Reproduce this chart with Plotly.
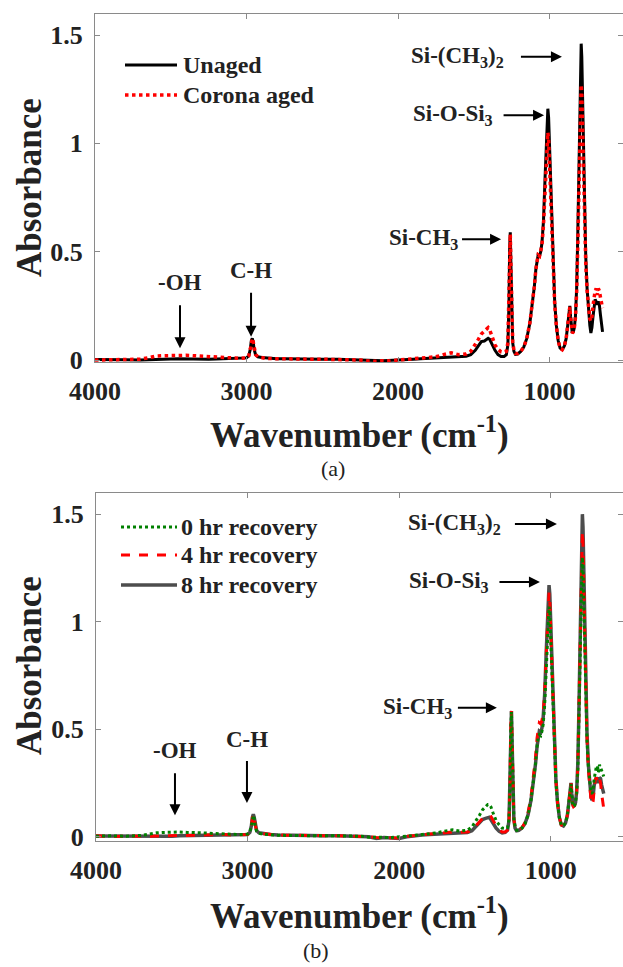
import plotly.graph_objects as go

W_PX, H_PX = 623, 967

# ---------------- data ----------------
wavenumber = [
    4000, 3900, 3800, 3700, 3650, 3600, 3550, 3500, 3450, 3400,
    3350, 3300, 3250, 3200, 3150, 3100, 3050, 3000, 2985, 2975,
    2968, 2962, 2956, 2950, 2940, 2925, 2900, 2875, 2850, 2800,
    2750, 2700, 2600, 2500, 2400, 2300, 2250, 2200, 2150, 2100,
    2050, 2000, 1950, 1900, 1850, 1800, 1750, 1700, 1650, 1600,
    1550, 1520, 1490, 1470, 1450, 1430, 1415, 1405, 1395, 1380,
    1360, 1340, 1320, 1300, 1285, 1275, 1268, 1263, 1259, 1255,
    1250, 1243, 1235, 1225, 1210, 1190, 1170, 1150, 1130, 1115,
    1100, 1090, 1082, 1075, 1066, 1058, 1050, 1040, 1030, 1022,
    1016, 1011, 1006, 1000, 993, 985, 976, 966, 955, 943,
    930, 916, 902, 890, 880, 872, 866, 861, 856, 850,
    843, 836, 829, 821, 814, 807, 800, 795, 791, 787,
    782, 776, 769, 761, 752, 743, 734, 727, 720, 713,
    706, 699, 692, 685, 678, 671, 664, 657, 650,
]

unaged = [
    0.002, 0.000, 0.001, 0.000, 0.002, 0.004, 0.005, 0.005, 0.006, 0.005,
    0.005, 0.005, 0.004, 0.005, 0.006, 0.006, 0.007, 0.010, 0.020, 0.050,
    0.090, 0.100, 0.085, 0.050, 0.025, 0.015, 0.012, 0.010, 0.008, 0.006,
    0.006, 0.005, 0.005, 0.004, 0.004, 0.003, 0.002, 0.000, -0.002, -0.003,
    -0.002, -0.001, 0.002, 0.004, 0.006, 0.008, 0.010, 0.012, 0.015, 0.016,
    0.018, 0.025, 0.045, 0.065, 0.085, 0.088, 0.098, 0.100, 0.096, 0.075,
    0.045, 0.025, 0.016, 0.016, 0.025, 0.070, 0.250, 0.520, 0.590, 0.450,
    0.200, 0.080, 0.040, 0.026, 0.028, 0.040, 0.060, 0.100, 0.170, 0.250,
    0.340, 0.420, 0.470, 0.485, 0.480, 0.500, 0.540, 0.640, 0.830, 1.000,
    1.110, 1.160, 1.120, 0.980, 0.800, 0.600, 0.420, 0.270, 0.160, 0.090,
    0.055, 0.048, 0.065, 0.100, 0.160, 0.220, 0.250, 0.200, 0.140, 0.125,
    0.130, 0.150, 0.200, 0.330, 0.560, 0.850, 1.150, 1.360, 1.460, 1.400,
    1.200, 0.950, 0.700, 0.480, 0.330, 0.230, 0.160, 0.125, 0.150, 0.200,
    0.260, 0.280, 0.270, 0.255, 0.270, 0.255, 0.210, 0.170, 0.130,
]

corona_aged = [
    0.000, 0.002, 0.000, 0.004, 0.010, 0.018, 0.020, 0.022, 0.021, 0.022,
    0.020, 0.019, 0.018, 0.015, 0.012, 0.010, 0.008, 0.010, 0.020, 0.050,
    0.090, 0.100, 0.085, 0.050, 0.025, 0.015, 0.010, 0.008, 0.007, 0.006,
    0.005, 0.005, 0.004, 0.004, 0.003, 0.003, 0.000, -0.004, -0.006, -0.003,
    -0.004, 0.000, 0.003, 0.005, 0.008, 0.012, 0.015, 0.025, 0.033, 0.025,
    0.028, 0.040, 0.070, 0.095, 0.120, 0.135, 0.148, 0.150, 0.140, 0.105,
    0.070, 0.050, 0.038, 0.035, 0.040, 0.080, 0.250, 0.510, 0.580, 0.440,
    0.200, 0.085, 0.045, 0.030, 0.030, 0.040, 0.060, 0.100, 0.170, 0.250,
    0.340, 0.420, 0.470, 0.485, 0.480, 0.500, 0.530, 0.620, 0.780, 0.930,
    1.020, 1.050, 1.020, 0.900, 0.750, 0.570, 0.400, 0.260, 0.160, 0.090,
    0.055, 0.048, 0.065, 0.100, 0.160, 0.215, 0.245, 0.200, 0.140, 0.125,
    0.130, 0.150, 0.195, 0.310, 0.510, 0.760, 1.020, 1.200, 1.270, 1.230,
    1.060, 0.850, 0.640, 0.450, 0.320, 0.240, 0.190, 0.180, 0.200, 0.250,
    0.300, 0.320, 0.330, 0.300, 0.330, 0.320, 0.290, 0.260, 0.240,
]

recovery_8hr = [
    0.003, 0.002, 0.004, 0.002, 0.003, 0.001, 0.000, 0.002, 0.004, 0.005,
    0.005, 0.006, 0.006, 0.007, 0.008, 0.008, 0.008, 0.010, 0.020, 0.050,
    0.090, 0.105, 0.090, 0.055, 0.028, 0.018, 0.014, 0.012, 0.010, 0.008,
    0.007, 0.006, 0.005, 0.005, 0.004, 0.003, 0.002, 0.000, -0.008, -0.004,
    -0.006, -0.008, 0.000, 0.005, 0.008, 0.010, 0.012, 0.014, 0.016, 0.018,
    0.020, 0.028, 0.050, 0.068, 0.080, 0.085, 0.090, 0.090, 0.080, 0.062,
    0.040, 0.025, 0.018, 0.020, 0.030, 0.075, 0.250, 0.520, 0.585, 0.450,
    0.200, 0.080, 0.040, 0.028, 0.030, 0.040, 0.060, 0.100, 0.170, 0.250,
    0.340, 0.420, 0.470, 0.490, 0.485, 0.505, 0.550, 0.660, 0.850, 1.020,
    1.130, 1.170, 1.130, 0.990, 0.810, 0.610, 0.420, 0.270, 0.160, 0.090,
    0.055, 0.050, 0.065, 0.100, 0.160, 0.220, 0.250, 0.200, 0.150, 0.140,
    0.145, 0.160, 0.210, 0.340, 0.580, 0.880, 1.190, 1.400, 1.500, 1.440,
    1.240, 0.980, 0.720, 0.490, 0.340, 0.240, 0.185, 0.170, 0.190, 0.240,
    0.270, 0.275, 0.265, 0.250, 0.275, 0.270, 0.240, 0.215, 0.200,
]

recovery_4hr = [
    0.004, 0.000, 0.003, 0.001, 0.002, 0.003, 0.004, 0.006, 0.005, 0.008,
    0.006, 0.010, 0.008, 0.009, 0.010, 0.008, 0.009, 0.010, 0.020, 0.050,
    0.090, 0.105, 0.090, 0.055, 0.028, 0.018, 0.014, 0.012, 0.010, 0.008,
    0.007, 0.006, 0.005, 0.005, 0.004, 0.003, 0.002, 0.000, -0.004, -0.004,
    -0.006, -0.006, 0.002, 0.006, 0.009, 0.012, 0.014, 0.018, 0.022, 0.020,
    0.022, 0.030, 0.055, 0.072, 0.085, 0.090, 0.098, 0.100, 0.095, 0.075,
    0.050, 0.032, 0.022, 0.022, 0.030, 0.075, 0.250, 0.520, 0.585, 0.450,
    0.200, 0.080, 0.040, 0.028, 0.030, 0.042, 0.065, 0.110, 0.185, 0.270,
    0.370, 0.460, 0.510, 0.530, 0.525, 0.540, 0.570, 0.670, 0.840, 1.000,
    1.100, 1.135, 1.100, 0.970, 0.800, 0.600, 0.415, 0.265, 0.160, 0.090,
    0.055, 0.050, 0.065, 0.100, 0.160, 0.220, 0.250, 0.200, 0.150, 0.140,
    0.145, 0.160, 0.205, 0.330, 0.560, 0.850, 1.140, 1.340, 1.420, 1.370,
    1.180, 0.930, 0.690, 0.470, 0.320, 0.220, 0.170, 0.150, 0.165, 0.220,
    0.265, 0.275, 0.260, 0.250, 0.270, 0.250, 0.200, 0.150, 0.130,
]

recovery_0hr = [
    0.002, 0.004, 0.002, 0.006, 0.012, 0.018, 0.020, 0.022, 0.022, 0.020,
    0.020, 0.018, 0.016, 0.014, 0.012, 0.010, 0.010, 0.012, 0.020, 0.050,
    0.090, 0.100, 0.085, 0.050, 0.025, 0.016, 0.012, 0.010, 0.008, 0.007,
    0.006, 0.005, 0.005, 0.004, 0.004, 0.003, 0.002, -0.002, -0.004, -0.003,
    -0.004, -0.002, 0.003, 0.006, 0.010, 0.014, 0.018, 0.026, 0.032, 0.026,
    0.030, 0.045, 0.075, 0.100, 0.125, 0.140, 0.150, 0.150, 0.140, 0.110,
    0.075, 0.055, 0.040, 0.038, 0.042, 0.080, 0.250, 0.510, 0.580, 0.440,
    0.200, 0.085, 0.045, 0.030, 0.030, 0.040, 0.060, 0.100, 0.170, 0.250,
    0.340, 0.420, 0.465, 0.475, 0.470, 0.490, 0.520, 0.610, 0.770, 0.930,
    1.030, 1.070, 1.040, 0.910, 0.760, 0.580, 0.400, 0.260, 0.160, 0.090,
    0.055, 0.050, 0.065, 0.100, 0.160, 0.215, 0.245, 0.200, 0.150, 0.140,
    0.145, 0.160, 0.200, 0.310, 0.510, 0.760, 1.030, 1.220, 1.300, 1.250,
    1.080, 0.870, 0.650, 0.460, 0.330, 0.250, 0.205, 0.200, 0.220, 0.270,
    0.310, 0.325, 0.330, 0.300, 0.335, 0.320, 0.300, 0.290, 0.280,
]

x_ticks = [4000, 3000, 2000, 1000]
y_ticks = [0, 0.5, 1, 1.5]
y_tick_labels = ["0", "0.5", "1", "1.5"]

legend_a = ["Unaged", "Corona aged"]
legend_b = ["0 hr recovery", "4 hr recovery", "8 hr recovery"]

# ---------------- styling ----------------
SERIF = "Liberation Serif"
AXIS_GRAY = "#8a8a8a"
TXT = "#222222"
BLACK = "#000000"
RED = "#ff0000"
GREEN = "#008000"
DGRAY = "#4d4d4d"


def px_x(p):
    return p / W_PX


def px_y(p):
    return 1 - p / H_PX


fig = go.Figure()

# top panel (a)
fig.add_trace(go.Scatter(x=wavenumber, y=unaged, mode="lines", name=legend_a[0],
                         line=dict(color=BLACK, width=3), xaxis="x", yaxis="y"))
fig.add_trace(go.Scatter(x=wavenumber, y=corona_aged, mode="lines", name=legend_a[1],
                         line=dict(color=RED, width=3.5, dash="dot"), xaxis="x", yaxis="y"))
# bottom panel (b)
fig.add_trace(go.Scatter(x=wavenumber, y=recovery_8hr, mode="lines", name=legend_b[2],
                         line=dict(color=DGRAY, width=3.5), xaxis="x2", yaxis="y2"))
fig.add_trace(go.Scatter(x=wavenumber, y=recovery_4hr, mode="lines", name=legend_b[1],
                         line=dict(color=RED, width=3, dash="dash"), xaxis="x2", yaxis="y2"))
fig.add_trace(go.Scatter(x=wavenumber, y=recovery_0hr, mode="lines", name=legend_b[0],
                         line=dict(color=GREEN, width=3, dash="dot"), xaxis="x2", yaxis="y2"))

axis_common = dict(
    showline=True, linecolor=AXIS_GRAY, linewidth=1, mirror="ticks",
    ticks="inside", ticklen=5, tickcolor=AXIS_GRAY, tickwidth=1,
    showgrid=False, zeroline=False, automargin=False,
    tickfont=dict(family=SERIF, size=26, color=TXT, weight="bold"),
    ticklabelstandoff=6,
)

fig.update_layout(
    width=W_PX, height=H_PX,
    margin=dict(l=0, r=0, t=0, b=0),
    paper_bgcolor="white", plot_bgcolor="white",
    showlegend=False,
    xaxis=dict(domain=[px_x(95), 1], range=[4000, 515], tickvals=x_ticks,
               anchor="y", **axis_common),
    yaxis=dict(domain=[px_y(362), px_y(14)], range=[-0.009, 1.597], tickvals=y_ticks,
               ticktext=y_tick_labels, anchor="x", **axis_common),
    xaxis2=dict(domain=[px_x(96), 1], range=[4000, 523], tickvals=x_ticks,
                anchor="y2", **axis_common),
    yaxis2=dict(domain=[px_y(840.7), px_y(492.7)], range=[-0.0186, 1.6], tickvals=y_ticks,
                ticktext=y_tick_labels, anchor="x2", **axis_common),
)

ann = []
shapes = []

# axis titles & captions
for (ytitle_c, xtitle_c, cap_y, cap_x, cap) in [
    (188, 433, 468, 333, "(a)"),
    (666, 913, 950, 316, "(b)"),
]:
    ann.append(dict(text="Absorbance", xref="paper", yref="paper", x=px_x(29), y=px_y(ytitle_c),
                    xanchor="center", yanchor="middle", textangle=-90, showarrow=False,
                    font=dict(family=SERIF, size=35, color=TXT, weight="bold")))
    ann.append(dict(text="Wavenumber (cm<sup>-1</sup>)", xref="paper", yref="paper",
                    x=px_x(359), y=px_y(xtitle_c), xanchor="center", yanchor="middle",
                    showarrow=False, font=dict(family=SERIF, size=35, color=TXT, weight="bold")))
    ann.append(dict(text=cap, xref="paper", yref="paper", x=px_x(cap_x), y=px_y(cap_y),
                    xanchor="center", yanchor="middle", showarrow=False,
                    font=dict(family=SERIF, size=22, color=TXT)))

lab_font = dict(family=SERIF, size=23, color=TXT, weight="bold")


def add_labels(xr, yr, items):
    # each label carries its own arrow: tip at (w, a), text offset (ax, ay) in px
    for text, w, a, ax, ay, stand in items:
        ann.append(dict(text=text, xref=xr, yref=yr, x=w, y=a, ax=ax, ay=ay,
                        showarrow=True, arrowhead=2, arrowsize=1.1, arrowwidth=2,
                        arrowcolor=BLACK, startstandoff=stand, borderpad=0,
                        font=lab_font))


add_labels("x", "y", [
    ("-OH", 3439, 0.055, 0, -66, 10),
    ("C-H", 2970, 0.108, 0, -66, 9),
    ("Si-CH<sub>3</sub>", 1320, 0.558, -78, 0, 4),
    ("Si-O-Si<sub>3</sub>", 1036, 1.13, -91, 0, 10),
    ("Si-(CH<sub>3</sub>)<sub>2</sub>", 918, 1.40, -104, 0, 16),
])
add_labels("x2", "y2", [
    ("-OH", 3479, 0.10, 0, -65, 10),
    ("C-H", 3004, 0.157, 0, -63, 8),
    ("Si-CH<sub>3</sub>", 1355, 0.60, -79, 0, 5),
    ("Si-O-Si<sub>3</sub>", 1071, 1.185, -91, 0, 10),
    ("Si-(CH<sub>3</sub>)<sub>2</sub>", 959, 1.455, -102, 0, 13),
])

# manual legends
leg_font = dict(family=SERIF, size=24, color=TXT, weight="bold")
for label, y, color, dash, width in [
    (legend_a[0], 65, BLACK, "solid", 3),
    (legend_a[1], 95, RED, "dot", 3.5),
]:
    shapes.append(dict(type="line", xref="paper", yref="paper", x0=px_x(125), x1=px_x(177),
                       y0=px_y(y), y1=px_y(y), line=dict(color=color, width=width, dash=dash)))
    ann.append(dict(text=label, xref="paper", yref="paper", x=px_x(181), y=px_y(y),
                    xanchor="left", yanchor="middle", showarrow=False, font=leg_font))

for label, y, color, dash, width in [
    (legend_b[0], 527, GREEN, "dot", 3),
    (legend_b[1], 555, RED, "dash", 3),
    (legend_b[2], 585, DGRAY, "solid", 3.5),
]:
    shapes.append(dict(type="line", xref="paper", yref="paper", x0=px_x(121), x1=px_x(177),
                       y0=px_y(y), y1=px_y(y), line=dict(color=color, width=width, dash=dash)))
    ann.append(dict(text=label, xref="paper", yref="paper", x=px_x(179), y=px_y(y),
                    xanchor="left", yanchor="middle", showarrow=False, font=leg_font))

fig.update_layout(annotations=ann, shapes=shapes)

fig.write_html("out.html")
